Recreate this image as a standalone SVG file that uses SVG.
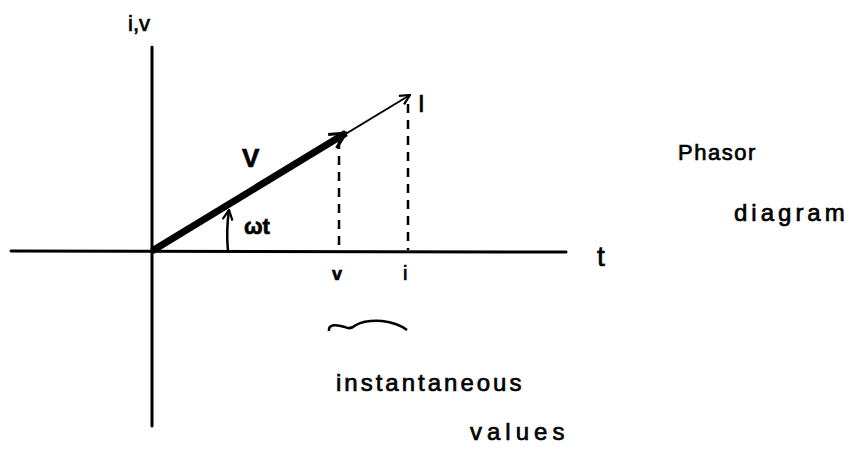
<svg xmlns="http://www.w3.org/2000/svg" width="857" height="449" viewBox="0 0 857 449">
<defs>
<style>
.ax{stroke:#000;stroke-width:3;fill:none;stroke-linecap:round}
.dash{stroke:#000;stroke-width:2.5;fill:none;stroke-dasharray:9,7}
.t{font-family:"Liberation Sans",Arial,sans-serif;fill:#000;stroke:#000;stroke-width:0.7}
</style>
<marker id="open" viewBox="0 0 12 12" refX="11" refY="6" markerWidth="12" markerHeight="12" markerUnits="userSpaceOnUse" orient="auto">
<path d="M1,1 L11,6 L1,11" fill="none" stroke="#000" stroke-width="2.2"/>
</marker>
<marker id="openBig" viewBox="0 0 20 20" refX="18" refY="10" markerWidth="20" markerHeight="20" markerUnits="userSpaceOnUse" orient="auto">
<path d="M2,2 L18,10 L2,18" fill="none" stroke="#000" stroke-width="3"/>
</marker>
</defs>
<rect width="857" height="449" fill="#fff"/>
<g id="axes">
<line class="ax" x1="152" y1="47" x2="152" y2="426"/>
<line class="ax" x1="11" y1="251" x2="566" y2="252"/>
</g>
<g id="connectors">
<line x1="152" y1="251" x2="410" y2="95" stroke="#000" stroke-width="2" marker-end="url(#open)"/>
<line x1="152" y1="251" x2="346" y2="133" stroke="#000" stroke-width="7" marker-end="url(#openBig)"/>
<line class="dash" x1="339" y1="140" x2="339" y2="250"/>
<line class="dash" x1="408" y1="104" x2="408" y2="250"/>
<path d="M228,251 Q226,230 229,210" fill="none" stroke="#000" stroke-width="2.5" marker-end="url(#open)"/>
<path d="M329,331 Q328,322 345,327 Q350,330 356,325 Q365,320 382,321 Q398,323 407,330" fill="none" stroke="#000" stroke-width="2.5"/>
</g>
<g id="labels">
<text class="t" x="128" y="31" font-size="22">i,v</text>
<text class="t" x="242" y="167" font-size="26" font-weight="bold">V</text>
<text class="t" x="244" y="234" font-size="22" font-weight="bold">ωt</text>
<text class="t" x="418" y="112" font-size="24">I</text>
<text class="t" x="332" y="280" font-size="18" font-weight="bold">v</text>
<text class="t" x="403" y="280" font-size="20">i</text>
<text class="t" x="597" y="266" font-size="28">t</text>
<text class="t" x="336" y="391" font-size="24" letter-spacing="3">instantaneous</text>
<text class="t" x="470" y="440" font-size="24" letter-spacing="5">values</text>
<text class="t" x="678" y="160" font-size="22" letter-spacing="1.5">Phasor</text>
<text class="t" x="734" y="221" font-size="24" letter-spacing="4">diagram</text>
</g>
</svg>
